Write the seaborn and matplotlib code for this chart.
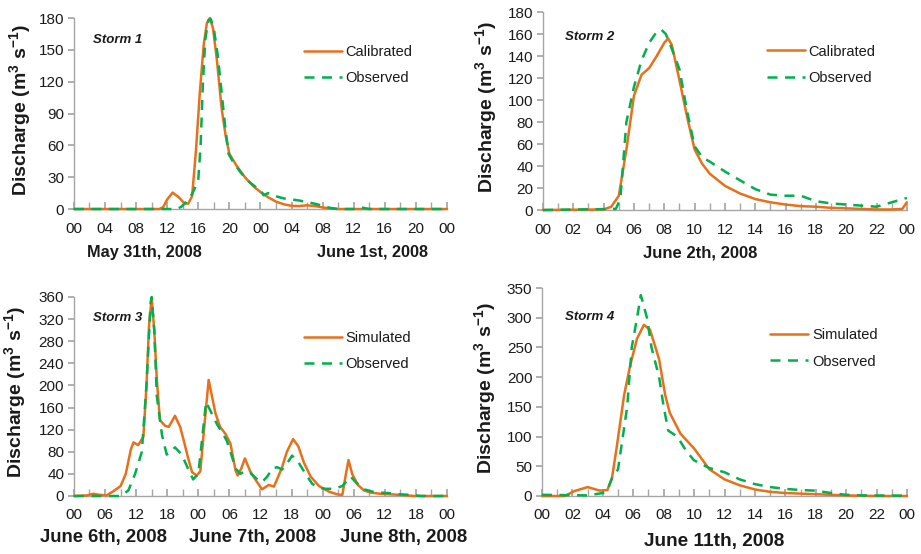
import matplotlib
matplotlib.use("Agg")
import matplotlib.pyplot as plt
import seaborn as sns
import pandas as pd

# ---------------- data ----------------
# Storm 1 (hours from May 31th 00:00)
t1_cal = [0, 11, 11.5, 12, 12.7, 13.5, 14.2, 14.7, 15.2, 15.7, 16.2, 16.7, 17.1, 17.5, 17.9,
          18.4, 19, 19.5, 20, 21, 22, 23, 24, 25, 26, 27, 28, 29, 30, 31, 32, 33, 34, 48]
q1_cal = [0, 0, 2, 9, 15.5, 11, 5.5, 5, 12, 55, 110, 155, 175, 180, 170,
          140, 95, 70, 52, 40, 30, 22, 16, 11, 7, 4.5, 3, 2.8, 3.5, 2.8, 1.5, 0.5, 0, 0]
t1_obs = [0, 13.2, 13.8, 14.5, 15.2, 15.7, 16.0, 16.3, 16.6, 16.9, 17.3, 17.6, 18.0, 18.5, 19.0,
          19.5, 19.9, 20.5, 21.5, 22.5, 23.5, 24.0, 24.4, 25, 26, 27, 28, 29, 30, 31, 32, 33,
          34, 36, 37, 38, 48]
q1_obs = [0, 0, 2, 7, 14, 22, 28, 60, 120, 160, 178, 179, 170, 145, 110,
          75, 52, 44, 34, 26, 20, 18, 13, 15, 12, 10, 9, 8, 6.5, 5, 3, 1,
          0, 0, 1.5, 0, 0]

# Storm 2 (hours of June 2th)
t2_cal = [0, 4, 4.5, 5, 5.5, 6, 6.5, 7, 7.5, 8, 8.25, 8.5, 9, 9.5, 10, 10.5, 11, 12, 13, 14,
          15, 16, 17, 18, 19, 20, 21, 22, 23, 23.7, 24]
q2_cal = [0, 0.5, 3, 13, 55, 104, 123, 129, 140, 152, 156, 150, 118, 85, 55, 42, 33, 22, 15, 10,
          7, 5, 3.5, 3, 2, 1.5, 1, 0.5, 0.5, 1, 7]
t2_obs = [0, 4.8, 5.1, 5.5, 6, 6.5, 7, 7.5, 7.8, 8.1, 8.4, 9, 9.5, 10, 10.5, 11, 12, 13, 14, 15,
          16, 17, 18, 19, 20, 21, 22, 23, 24]
q2_obs = [0, 1, 10, 80, 112, 136, 152, 162, 164, 160, 150, 128, 90, 58, 48, 44, 35, 27, 19, 14,
          13, 13, 8, 6, 5, 4, 3, 7, 11]

# Storm 3 (hours from June 6th 00:00)
t3_sim = [0, 2.5, 3.7, 5, 6.3, 7.5, 9, 10, 11, 11.5, 12.4, 13.4, 14, 14.5, 15, 15.5, 16, 16.6,
          17.6, 18.3, 19.5, 20.5, 21.2, 22, 22.8, 23.7, 24.4, 25.2, 26, 27.3, 28.2, 29.2, 30.2,
          31.2, 31.6, 32.3, 33, 34, 35, 36.3, 37.6, 38.6, 40.1, 41.1, 42.3, 43.3, 44.4, 45.7,
          47.3, 49.2, 50.8, 51.8, 52.5, 53, 53.7, 54.8, 56, 57.3, 59.2, 63, 65.7, 72]
q3_sim = [0, 1, 4, 2, 1, 8, 18, 40, 85, 97, 92, 107, 200, 310, 358, 300, 210, 137,
          127, 125, 145, 125, 100, 70, 43, 37, 45, 130, 210, 150, 125, 113, 95,
          46, 37, 50, 68, 45, 30, 12, 20, 17, 50, 80, 103, 90, 60, 35,
          18, 8, 3, 2, 40, 65, 40, 20, 10, 6, 4, 2, 0, 0]
t3_obs = [0, 9, 10.5, 11.8, 13.1, 14, 14.8, 15, 15.5, 16, 17, 17.9, 18.5, 19.5, 20.8, 22, 23,
          24, 24.7, 25.5, 26.3, 27.6, 28.9, 29.5, 30.2, 31.2, 32.1, 33, 34, 35.4, 36.3, 37.3,
          38.3, 39.2, 40.2, 41.2, 42.1, 43.4, 44.7, 46, 47.3, 48.6, 50.2, 51.8, 53.4, 54.4,
          56, 58, 59.2, 61.2, 63, 65, 67, 72]
q3_obs = [0, 0, 10, 40, 80, 200, 350, 360, 300, 180, 110, 75, 78, 88, 75, 50, 30,
          40, 100, 170, 155, 130, 110, 100, 80, 50, 40, 45, 42, 30, 25, 35,
          50, 52, 48, 60, 73, 60, 40, 22, 15, 13, 13, 18, 35, 25,
          12, 7, 6, 5, 3, 2, 0, 0]

# Storm 4 (hours of June 11th)
t4_sim = [0, 1.5, 2.1, 3, 3.8, 4.3, 4.6, 4.9, 5.4, 5.8, 6.25, 6.7, 7.1, 7.7, 8.1, 8.4, 9.1, 10,
          11, 12, 13, 14, 15, 16, 17, 18, 19, 20, 21, 22, 24]
q4_sim = [0, 0, 8, 15, 9, 10, 30, 80, 170, 220, 265, 288, 280, 230, 170, 140, 105, 80,
          45, 28, 18, 11, 7, 5, 4, 3, 2, 1, 0.5, 0, 0]
t4_obs = [0, 3, 4, 4.3, 4.6, 5, 5.6, 5.9, 6.25, 6.5, 6.9, 7.2, 7.7, 8, 8.3, 8.9, 9.5, 10, 11, 12,
          13, 14, 15, 16, 17, 18, 19, 20, 21, 24]
q4_obs = [2, 1, 5, 10, 30, 45, 150, 250, 300, 338, 300, 250, 200, 150, 110, 100, 75, 60, 47, 40,
          28, 20, 15, 12, 10, 9, 5, 2, 1, 0.5]

storm_titles = ["Storm 1", "Storm 2", "Storm 3", "Storm 4"]
model_names = ["Calibrated", "Calibrated", "Simulated", "Simulated"]
obs_name = "Observed"
ylabel = "Discharge (m$^\\mathbf{3}$ s$^\\mathbf{-1}$)"
date_labels = [["May 31th, 2008", "June 1st, 2008"], ["June 2th, 2008"],
               ["June 6th, 2008", "June 7th, 2008", "June 8th, 2008"], ["June 11th, 2008"]]

# ---------------- style ----------------
sns.set_theme(style="white")
plt.rcParams['font.family'] = ['Liberation Sans', 'DejaVu Sans']
plt.rcParams['mathtext.fontset'] = 'custom'
plt.rcParams['mathtext.rm'] = 'Liberation Sans'
plt.rcParams['mathtext.bf'] = 'Liberation Sans:bold'

ORANGE = "#E8701A"
GREEN = "#00B050"
SPINE = "#A6A6A6"

fig = plt.figure(figsize=(9.21, 5.54), dpi=100)
axes_rects = [
    [0.0803, 0.6227, 0.405, 0.3448],
    [0.5896, 0.6209, 0.395, 0.3574],
    [0.0803, 0.1047, 0.405, 0.3592],
    [0.5885, 0.1047, 0.3963, 0.3754],
]
series = [
    (t1_cal, q1_cal, t1_obs, q1_obs),
    (t2_cal, q2_cal, t2_obs, q2_obs),
    (t3_sim, q3_sim, t3_obs, q3_obs),
    (t4_sim, q4_sim, t4_obs, q4_obs),
]
xspans = [48, 24, 72, 24]
xmajor = [4, 2, 6, 2]
xminor = [2, 1, 3, 1]
ylims = [(0, 180, 30), (0, 180, 20), (0, 360, 40), (0, 350, 50)]
legend_anchor = [(0.60, 0.89), (0.60, 0.865), (0.60, 0.86), (0.61, 0.835)]
ylabel_x = [-0.107, -0.118, -0.12, -0.118]
storm_pos = [(0.05, 0.885), (0.06, 0.874), (0.05, 0.895), (0.063, 0.86)]
date_pos = [[(0.157, 0.545), (0.404, 0.545)], [(0.760, 0.543)],
            [(0.112, 0.029), (0.274, 0.029), (0.438, 0.029)], [(0.775, 0.022)]]
date_size = [11.7, 12, 13.3, 13.7]

for i in range(4):
    ax = fig.add_axes(axes_rects[i])
    tm, qm, to, qo = series[i]
    dfm = pd.DataFrame({"t": tm, "q": qm})
    dfo = pd.DataFrame({"t": to, "q": qo})
    sns.lineplot(data=dfm, x="t", y="q", ax=ax, color=ORANGE, lw=1.8,
                 label=model_names[i], zorder=3, clip_on=False)
    sns.lineplot(data=dfo, x="t", y="q", ax=ax, color=GREEN, lw=1.8,
                 label=obs_name, zorder=4, clip_on=False)
    ax.lines[-1].set_dashes((4, 3))

    span = xspans[i]
    ax.set_xlim(0, span)
    ymin, ymax, ystep = ylims[i]
    ax.set_ylim(ymin, ymax)
    ax.set_yticks(range(ymin, ymax + 1, ystep))
    maj = list(range(0, span + 1, xmajor[i]))
    ax.set_xticks(maj)
    ax.set_xticklabels([f"{h % 24:02d}" for h in maj])
    ax.set_xticks(list(range(0, span + 1, xminor[i])), minor=True)

    for s in ["top", "right"]:
        ax.spines[s].set_visible(False)
    for s in ["left", "bottom"]:
        ax.spines[s].set_color(SPINE)
        ax.spines[s].set_linewidth(1.0)
    ax.tick_params(axis="x", which="both", direction="in", length=5, color=SPINE,
                   labelsize=11, labelcolor="#1a1a1a", pad=9, bottom=True)
    ax.tick_params(axis="y", which="major", direction="out", length=4, color=SPINE,
                   labelsize=11, labelcolor="#1a1a1a", pad=3, left=True)

    ax.set_xlabel("")
    ax.set_ylabel(ylabel, fontsize=14, fontweight="bold", color="#1a1a1a")
    ax.yaxis.set_label_coords(ylabel_x[i], 0.52)

    ax.text(storm_pos[i][0], storm_pos[i][1], storm_titles[i], transform=ax.transAxes,
            fontsize=9.5, fontweight="bold", fontstyle="italic", color="#1a1a1a",
            ha="left", va="center")

    leg = ax.legend(loc="upper left", bbox_to_anchor=legend_anchor[i], frameon=False,
                    fontsize=10.5, handlelength=2.6, handletextpad=0.25,
                    labelspacing=0.85, borderaxespad=0)
    for txt in leg.get_texts():
        txt.set_color("#1a1a1a")

    for (fx, fy), lab in zip(date_pos[i], date_labels[i]):
        fig.text(fx, fy, lab, fontsize=date_size[i], fontweight="bold",
                 color="#1a1a1a", ha="center", va="center")

fig.savefig("out.png", dpi=100)
